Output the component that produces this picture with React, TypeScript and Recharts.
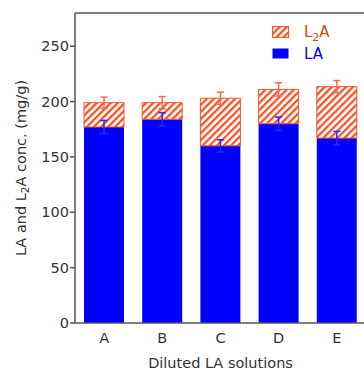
import React from 'react';
import {
  ComposedChart,
  Bar,
  Line,
  XAxis,
  YAxis,
  ErrorBar,
  Label,
} from 'recharts';

const categories = ['A', 'B', 'C', 'D', 'E'];
const laValues = [177, 184, 160, 180, 167];
const laErrors = [6, 6, 5.5, 6, 6];
const l2aValues = [22, 15, 43, 31, 46.5];
const l2aErrors = [5, 5.5, 5.5, 6, 5.5];
const yTicks = [0, 50, 100, 150, 200, 250];

const data = categories.map((name, i) => ({
  name,
  la: laValues[i],
  laErr: laErrors[i],
  l2a: l2aValues[i],
  l2aErr: l2aErrors[i],
}));

const FONT = '"DejaVu Sans", sans-serif';
const AXIS = '#555';
const BLUE = '#0000ff';
const ORANGE = '#f75222';

const HatchDef = ({ id }: { id: string }) => (
  <pattern id={id} patternUnits="userSpaceOnUse" width={5} height={5} patternTransform="rotate(45)">
    <rect x={0} y={0} width={2.3} height={5} fill={ORANGE} />
  </pattern>
);

// legend drawn as an overlay inside the plot frame
const LegendBox = () => (
  <div
    style={{
      position: 'absolute',
      left: 272,
      top: 21,
      fontFamily: FONT,
      fontSize: 15,
      lineHeight: '18px',
    }}
  >
    <div style={{ display: 'flex', alignItems: 'center', height: 22 }}>
      <svg width={17} height={12} style={{ marginRight: 15 }}>
        <defs>
          <HatchDef id="hatchLegend" />
        </defs>
        <rect x={0.5} y={0.5} width={16} height={11} fill="url(#hatchLegend)" stroke={ORANGE} />
      </svg>
      <span style={{ color: '#d9461c' }}>
        L<sub style={{ fontSize: 11, lineHeight: 0 }}>2</sub>A
      </span>
    </div>
    <div style={{ display: 'flex', alignItems: 'center', height: 22 }}>
      <svg width={17} height={12} style={{ marginRight: 15 }}>
        <rect x={0.5} y={0.5} width={16} height={10} fill={BLUE} />
      </svg>
      <span style={{ color: BLUE }}>LA</span>
    </div>
  </div>
);

const YTitle = () => (
  <text
    x={25.5}
    y={168}
    transform="rotate(-90, 25.5, 168)"
    textAnchor="middle"
    fontSize={14.5}
    fontFamily={FONT}
    fill="#333"
  >
    LA and L
    <tspan fontSize={10.5} dy={3}>2</tspan>
    <tspan dy={-3}>A conc. (mg/g)</tspan>
  </text>
);

export default function App() {
  return (
    <div
      style={{
        position: 'fixed',
        left: 0,
        top: 0,
        width: 364,
        height: 372,
        overflow: 'hidden',
        background: '#fff',
      }}
    >
      <ComposedChart
        width={366}
        height={372}
        data={data}
        margin={{ top: 12, right: 0, left: 0, bottom: 0 }}
        style={{ fontFamily: FONT }}
      >
        <defs>
          <HatchDef id="hatchBar" />
        </defs>
        <XAxis
          dataKey="name"
          height={49}
          stroke={AXIS}
          strokeWidth={1.5}
          tickLine={false}
          tickSize={6}
          tickMargin={4}
          tick={{ fontSize: 14.5, fill: '#333' }}
        >
          <Label value="Diluted LA solutions" position="insideBottom" offset={4} fontSize={14.5} fill="#333" />
        </XAxis>
        <XAxis
          xAxisId="top"
          dataKey="name"
          orientation="top"
          height={1}
          stroke={AXIS}
          strokeWidth={1.5}
          tick={false}
          tickLine={false}
        />
        <YAxis
          width={75}
          domain={[0, 280]}
          ticks={yTicks}
          stroke={AXIS}
          strokeWidth={1.5}
          tickSize={5}
          tickMargin={1}
          tick={{ fontSize: 14.5, fill: '#333' }}
          label={<YTitle />}
        />
        <YAxis
          yAxisId="right"
          orientation="right"
          mirror
          width={1}
          domain={[0, 280]}
          ticks={yTicks}
          stroke={AXIS}
          strokeWidth={1.5}
          tickSize={7}
          tick={false}
        />
        <Bar dataKey="la" stackId="s" fill={BLUE} barSize={40} isAnimationActive={false}>
          <ErrorBar dataKey="laErr" direction="y" width={3.5} stroke="#1a30ff" strokeWidth={1.5} />
        </Bar>
        <Bar
          dataKey="l2a"
          stackId="s"
          fill="url(#hatchBar)"
          stroke={ORANGE}
          strokeWidth={1}
          barSize={40}
          isAnimationActive={false}
        >
          <ErrorBar dataKey="l2aErr" direction="y" width={3.5} stroke="#ff6a45" strokeWidth={1.5} />
        </Bar>
        {/* invisible series so the top frame and right tick axis get drawn */}
        <Line
          dataKey="la"
          xAxisId="top"
          yAxisId="right"
          stroke="none"
          dot={false}
          activeDot={false}
          isAnimationActive={false}
        />
      </ComposedChart>
      <LegendBox />
    </div>
  );
}
